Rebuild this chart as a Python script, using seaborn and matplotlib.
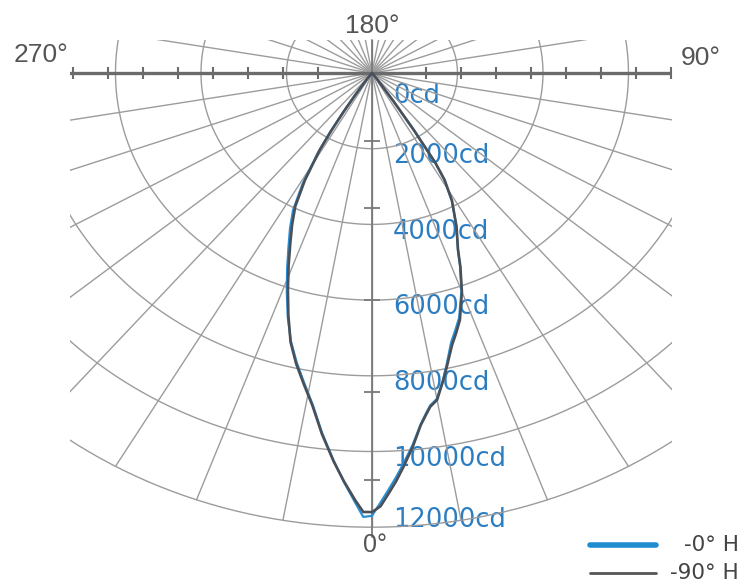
import numpy as np
import pandas as pd
import seaborn as sns
import matplotlib.pyplot as plt
from matplotlib.lines import Line2D

# ---------------- data ----------------
gamma_deg = [-90, -40, -36, -34, -33, -32, -31, -29, -27, -25, -23, -21, -19, -17,
             -15, -13, -11, -9, -7, -5, -3.5, -2, -1, 0, 1, 2, 3, 4, 5.5, 7, 8,
             8.8, 10, 11.5, 12.7, 14.6, 16, 17.5, 20, 22, 23.3, 26, 29, 31, 32,
             33, 34, 36, 40, 90]
grey_cd = [0, 0, 200, 700, 1200, 1800, 2370, 3230, 3950, 4420, 4890, 5440, 6040,
           6690, 7360, 7885, 8370, 8900, 9610, 10300, 10800, 11290, 11600, 11600,
           11450, 11120, 10800, 10450, 9930, 9370, 9110, 8920, 8770, 8320, 7960,
           7430, 7145, 6840, 6150, 5520, 5090, 4510, 3860, 3300, 2800, 1800, 900,
           200, 0, 0]
blue_cd = [0, 0, 220, 730, 1250, 1880, 2450, 3350, 4070, 4540, 5000, 5540, 6120,
           6740, 7330, 7840, 8330, 8870, 9580, 10280, 10820, 11350, 11730, 11700,
           11350, 11020, 10700, 10370, 9880, 9350, 9080, 8890, 8740, 8300, 7920,
           7350, 7070, 6780, 6120, 5500, 5080, 4500, 3850, 3290, 2790, 1790, 890,
           200, 0, 0]

series_labels = ["-0° H", "-90° H"]
ring_cd = [2000, 4000, 6000, 8000, 10000, 12000]
spoke_deg = list(range(0, 360, 10))
cd_labels = [0, 2000, 4000, 6000, 8000, 10000, 12000]
h_ticks_cd = [1260, 2080, 2900, 3720, 4540, 5360, 6180, 7000]
v_ticks_cd = [1800, 3570, 6000, 8430, 10750]
angle_labels = ["0°", "90°", "180°", "270°"]

BLUE = "#2a8fd4"
GREY = "#4a5058"
GRID = "#9c9c9c"
LABEL_BLUE = "#2b7dc2"
TXT = "#555555"


def to_xy(deg, r):
    t = np.deg2rad(np.asarray(deg, dtype=float))
    r = np.asarray(r, dtype=float)
    return r * np.sin(t), -r * np.cos(t)


sns.set_style("white")
fig = plt.figure(figsize=(7.41, 5.84), dpi=100)
ax = fig.add_axes([70 / 741, (584 - 530) / 584, 602 / 741, 490 / 584])
ax.set_xlim(-7064, 7018)
ax.set_ylim(-12074, 872)
ax.axis("off")

# cd labels (under the grid)
for v in cd_labels:
    if v == 0:
        yy = -600
    elif v == 12000:
        yy = -11810
    else:
        yy = -v - 190
    ax.text(491, yy, f"{v}cd", color=LABEL_BLUE, fontsize=18.5,
            ha="left", va="center", zorder=1, family="DejaVu Sans")

# rings
theta = np.linspace(0, 360, 721)
for rc in ring_cd:
    x, y = to_xy(theta, np.full_like(theta, rc))
    ax.plot(x, y, color=GRID, lw=1.0, zorder=2)

# spokes
for a in spoke_deg:
    x, y = to_xy([a, a], [0, ring_cd[-1]])
    ax.plot(x, y, color=GRID, lw=1.0, zorder=2)

# horizontal axis with ticks
ax.axhline(0, color="#6b6b6b", lw=2.4, zorder=3)
ht = np.array(h_ticks_cd)
ax.plot(np.concatenate([-ht, ht]), np.zeros(2 * len(ht)), ls="", marker="|",
        ms=8, mew=1.5, color="#6b6b6b", zorder=3)

# vertical axis with ticks
ax.plot([0, 0], [872, -12250], color="#7a7a7a", lw=1.3, zorder=3, clip_on=False)
ax.plot(np.zeros(len(v_ticks_cd)), -np.array(v_ticks_cd), ls="", marker="_",
        ms=11, mew=1.3, color="#7a7a7a", zorder=3)

# curves
bx, by = to_xy(gamma_deg, blue_cd)
gx, gy = to_xy(gamma_deg, grey_cd)
sns.lineplot(x=bx, y=by, sort=False, estimator=None, color=BLUE, lw=1.6,
             ax=ax, zorder=4)
sns.lineplot(x=gx, y=gy, sort=False, estimator=None, color=GREY, lw=1.9,
             ax=ax, zorder=5)

# angle labels
ax.text(0, 1250, angle_labels[2], color=TXT, fontsize=19, ha="center",
        va="center", family="Liberation Sans", clip_on=False)
ax.text(-7740, 476, angle_labels[3], color=TXT, fontsize=19, ha="center",
        va="center", family="Liberation Sans", clip_on=False)
ax.text(7680, 396, angle_labels[1], color=TXT, fontsize=19, ha="center",
        va="center", family="Liberation Sans", clip_on=False)
ax.text(80, -12480, angle_labels[0], color=TXT, fontsize=18, ha="center",
        va="center", family="Liberation Sans", clip_on=False)

# legend (drawn in figure space, labels right-aligned like the original)
leg_colors = ["#1f8dd0", "#555555"]
leg_widths = [4, 2]
leg_rows_px = [545, 573]
for lab, col, lw, ypx in zip(series_labels, leg_colors, leg_widths, leg_rows_px):
    yf = (584 - ypx) / 584
    fig.add_artist(Line2D([590 / 741, 656 / 741], [yf, yf], color=col, lw=lw,
                          transform=fig.transFigure))
    fig.text(739 / 741, yf, lab, ha="right", va="center", fontsize=15.5,
             color="#444444", family="DejaVu Sans")

fig.savefig("out.png", dpi=100)
